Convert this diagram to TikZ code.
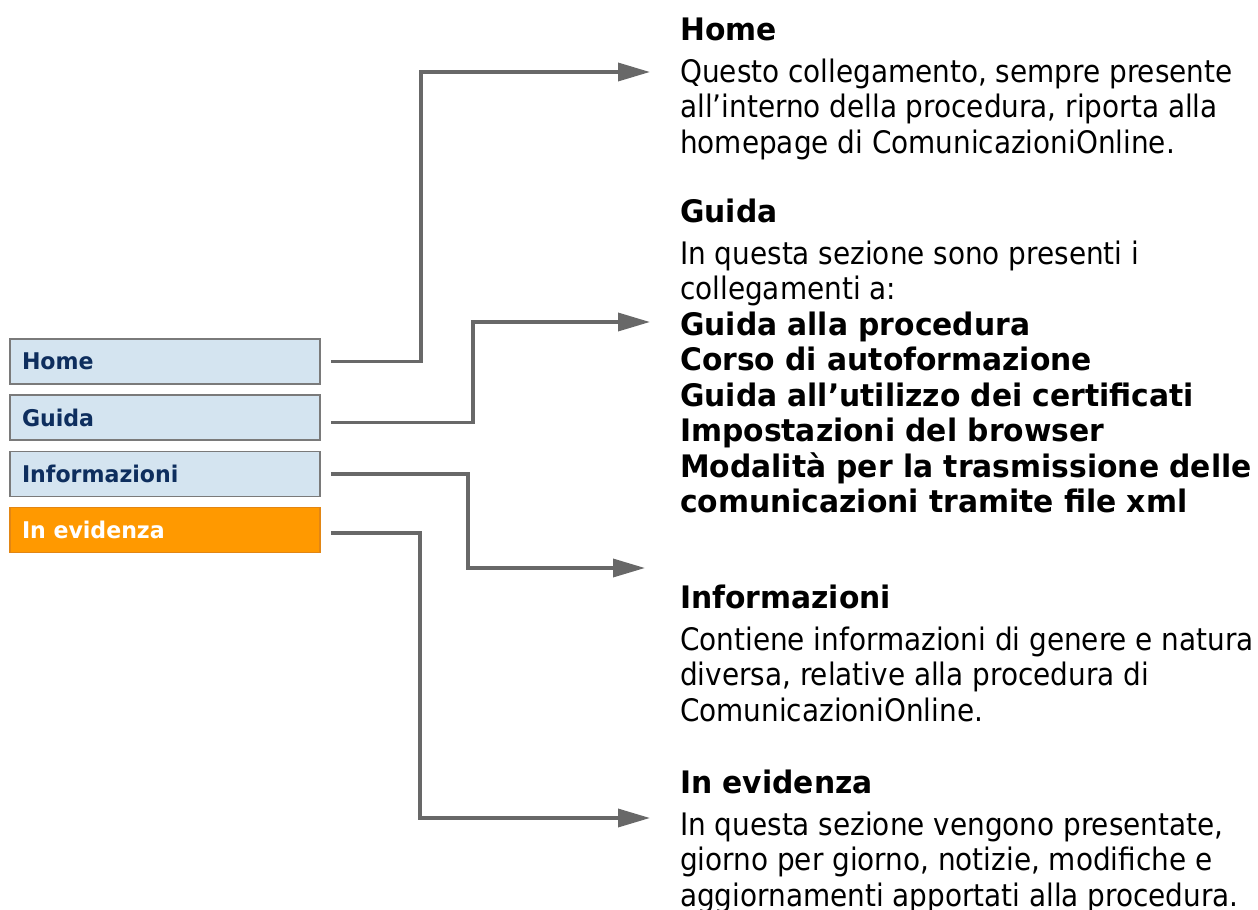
\documentclass[tikz,border=0pt]{standalone}
\usepackage{fontspec}
\setmainfont{DejaVu Sans Condensed}[BoldFeatures={FakeStretch=1.067}]
\usetikzlibrary{arrows.meta}

\definecolor{menublue}{RGB}{212,228,240}
\definecolor{menuborder}{RGB}{122,122,122}
\definecolor{menutext}{RGB}{14,46,94}
\definecolor{menuorange}{RGB}{255,153,0}
\definecolor{orangeborder}{RGB}{226,134,20}
\definecolor{conngray}{RGB}{104,104,104}

\begin{document}
\begin{tikzpicture}[x=1pt,y=-1pt,
  menubtn/.style={draw=menuborder, line width=1.8pt, fill=menublue,
    minimum width=310pt, minimum height=45pt, text width=286pt, align=left,
    inner xsep=12pt, text=menutext, font=\fontsize{23}{26}\selectfont\bfseries},
  hotbtn/.style={menubtn, draw=orangeborder, fill=menuorange, text=white},
  desc/.style={align=left, inner sep=0pt, anchor=base west,
    font=\fontsize{31}{35.5}\selectfont},
  conn/.style={draw=conngray, line width=3.5pt,
    -{Triangle[length=32pt,width=18pt]}}]

\useasboundingbox (0,0) rectangle (1258,910);

% Menu buttons
\node[menubtn] (home)  at (165,361.5) {Home};
\node[menubtn] (guida) at (165,417.5) {Guida};
\node[menubtn] (info)  at (165,474)   {Informazioni};
\node[hotbtn]  (evid)  at (165,530)   {In evidenza};

% Descriptions (placed at the baseline of their last line)
\node[desc] (homedesc) at (680,153) {\textbf{Home}\\[6.5pt]
  Questo collegamento, sempre presente\\
  all'interno della procedura, riporta alla\\
  homepage di ComunicazioniOnline.};
\node[desc] (guidadesc) at (680,512.5) {\textbf{Guida}\\[6.5pt]
  In questa sezione sono presenti i\\
  collegamenti a:\\
  \textbf{Guida alla procedura}\\
  \textbf{Corso di autoformazione}\\
  \textbf{Guida all'utilizzo dei certificati}\\
  \textbf{Impostazioni del browser}\\
  \textbf{Modalità per la trasmissione delle}\\
  \textbf{comunicazioni tramite file xml}};
\node[desc] (infodesc) at (680,721) {\textbf{Informazioni}\\[6.5pt]
  Contiene informazioni di genere e natura\\
  diversa, relative alla procedura di\\
  ComunicazioniOnline.};
\node[desc] (evidesc) at (680,906) {\textbf{In evidenza}\\[6.5pt]
  In questa sezione vengono presentate,\\
  giorno per giorno, notizie, modifiche e\\
  aggiornamenti apportati alla procedura.};

% Arrow targets
\coordinate (hometip)  at (650,72);
\coordinate (guidatip) at (650,322);
\coordinate (infotip)  at (645,568);
\coordinate (evidtip)  at (650,818);

% Connectors
\draw[conn] ([xshift=10pt]home.east) -- ++(90,0) |- (hometip);
\draw[conn] ([xshift=10pt,yshift=-5pt]guida.east) -- ++(142,0) |- (guidatip);
\draw[conn] ([xshift=10pt]info.east) -- ++(137,0) |- (infotip);
\draw[conn] ([xshift=10pt,yshift=-3pt]evid.east) -- ++(89,0) |- (evidtip);

\end{tikzpicture}
\end{document}
